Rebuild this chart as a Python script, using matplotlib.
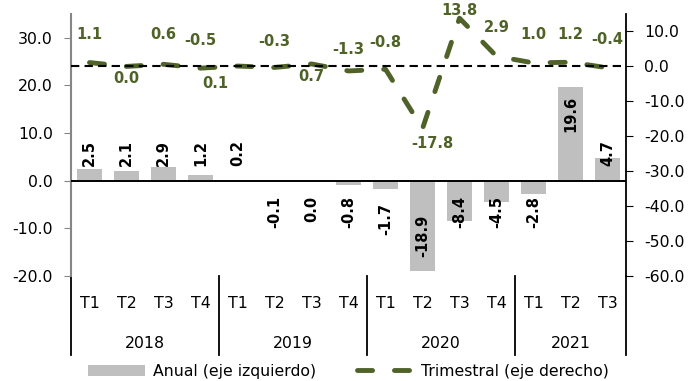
import numpy as np
import matplotlib.pyplot as plt
import matplotlib.transforms as mtransforms
from matplotlib.lines import Line2D
from matplotlib.patches import Patch

# --- DATOS ---
quarters = ["T1", "T2", "T3", "T4", "T1", "T2", "T3", "T4",
            "T1", "T2", "T3", "T4", "T1", "T2", "T3"]
years = ["2018", "2019", "2020", "2021"]
year_sizes = [4, 4, 4, 3]
anual = [2.5, 2.1, 2.9, 1.2, 0.2, -0.1, 0.0, -0.8, -1.7, -18.9, -8.4, -4.5, -2.8, 19.6, 4.7]
trimestral = [1.1, 0.0, 0.6, -0.5, 0.1, -0.3, 0.7, -1.3, -0.8, -17.8, 13.8, 2.9, 1.0, 1.2, -0.4]

# desplazamiento de las etiquetas de la serie trimestral (pixeles)
tri_label_offsets = [(0, 28), (0, -12), (0, 30), (0, 28), (-22, -17), (0, 26), (0, -13),
                     (0, 21), (0, 27), (10, -15), (0, 8), (0, 29), (0, 28), (0, 28), (0, 28)]

GREY = "#BFBFBF"
GREEN = "#4F6228"
DASH = (0, (3.1, 4.5))

plt.rcParams['font.family'] = ['DejaVu Sans']

fig = plt.figure(figsize=(6.91, 3.81), dpi=100)
ax = fig.add_axes([71 / 691, 105 / 381, 555 / 691, 262 / 381])
ax2 = ax.twinx()

x = np.arange(len(anual))
ax.bar(x, anual, width=0.68, color=GREY, zorder=2)
ax.axhline(0, color="black", lw=1.4, zorder=3)
ax.set_xlim(-0.5, len(anual) - 0.5)
ax.set_ylim(-20, 35)
ax.set_yticks(np.arange(-20, 31, 10))
ax.set_yticklabels([f"{v:.1f}" for v in np.arange(-20, 31, 10)], fontsize=11.3)
ax.set_xticks([])

# etiquetas de barras
for xi, v in zip(x, anual):
    if v > 15:
        ax.annotate(f"{v:.1f}", (xi, v), xytext=(0, -9), textcoords="offset pixels",
                    rotation=90, ha="center", va="top", fontsize=10.5, fontweight="bold")
    elif v < -15:
        ax.annotate(f"{v:.1f}", (xi, v), xytext=(0, 14), textcoords="offset pixels",
                    rotation=90, ha="center", va="bottom", fontsize=10.5, fontweight="bold")
    elif v > 0 or (v == 0 and xi < 5):
        ax.annotate(f"{v:.1f}", (xi, 0), xytext=(0, 15), textcoords="offset pixels",
                    rotation=90, ha="center", va="bottom", fontsize=10.5, fontweight="bold")
    else:
        dy = -22 if v < -1.5 and xi == 8 else -15
        ax.annotate(f"{v:.1f}", (xi, 0), xytext=(0, dy), textcoords="offset pixels",
                    rotation=90, ha="center", va="top", fontsize=10.5, fontweight="bold")

# serie trimestral (eje derecho)
ax2.plot(x, trimestral, color=GREEN, lw=3.5, linestyle=DASH,
         dash_capstyle="round", zorder=3)
ax2.axhline(0, color="black", lw=1.5, linestyle=(0, (4, 2.5)), zorder=4)
ax2.set_ylim(-60, 15)
ax2.set_yticks(np.arange(-60, 11, 10))
ax2.set_yticklabels([f"{v:.1f}" for v in np.arange(-60, 11, 10)], fontsize=11.3)

for xi, v, (dx, dy) in zip(x, trimestral, tri_label_offsets):
    ax2.annotate(f"{v:.1f}", (xi, v), xytext=(dx, dy), textcoords="offset pixels",
                 ha="center", va="center", fontsize=10.5, fontweight="bold",
                 color=GREEN, annotation_clip=False)

# ejes
for a in (ax, ax2):
    a.spines["top"].set_visible(False)
    a.spines["bottom"].set_visible(False)
ax.spines["right"].set_visible(False)
ax2.spines["left"].set_visible(False)
ax.spines["left"].set_color("#868686")
ax.spines["left"].set_linewidth(1.5)
ax2.spines["right"].set_color("black")
ax2.spines["right"].set_linewidth(1.3)
ax.tick_params(axis="y", length=5, color="#868686", pad=8)
ax2.tick_params(axis="y", length=5, color="black", pad=8)

# etiquetas de categorias
trans = mtransforms.blended_transform_factory(ax.transData, ax.transAxes)
for xi, q in zip(x, quarters):
    ax.text(xi, -0.106, q, transform=trans, ha="center", va="center", fontsize=11.3)

bounds = np.concatenate([[0], np.cumsum(year_sizes)]) - 0.5
for b in bounds:
    ax.plot([b, b], [0, -0.30], transform=trans, color="black", lw=1.3, clip_on=False)
for i, yr in enumerate(years):
    ax.text((bounds[i] + bounds[i + 1]) / 2, -0.256, yr, transform=trans,
            ha="center", va="center", fontsize=11.3)

# leyenda
handles = [Patch(facecolor=GREY, edgecolor="none"),
           Line2D([], [], color=GREEN, lw=3.5, linestyle=DASH, dash_capstyle="round")]
ax.legend(handles, ["Anual (eje izquierdo)", "Trimestral (eje derecho)"],
          loc="center", bbox_to_anchor=(0.5, -0.363), ncol=2, frameon=False,
          fontsize=11.3, handlelength=3.6, columnspacing=2.6, handletextpad=0.5,
          borderaxespad=0)

fig.savefig("out.png", dpi=100)
